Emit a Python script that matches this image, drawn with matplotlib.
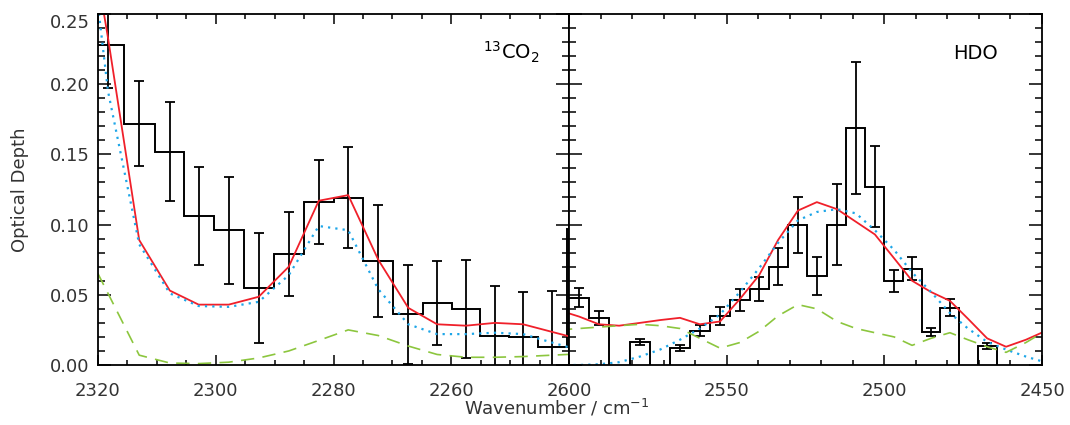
import matplotlib.pyplot as plt
import numpy as np
from matplotlib.ticker import MultipleLocator, FixedLocator, NullFormatter, FormatStrFormatter

plt.rcParams['font.family'] = 'DejaVu Sans'
plt.rcParams['mathtext.default'] = 'regular'

# ---- 13CO2 band (left panel) ----
co2_wn = [2318.3, 2313.0, 2307.8, 2302.9, 2297.8, 2292.7, 2287.6, 2282.5, 2277.5,
          2272.4, 2267.3, 2262.4, 2257.5, 2252.6, 2247.8, 2242.9, 2237.8]
co2_od = [0.228, 0.172, 0.152, 0.106, 0.096, 0.055, 0.079, 0.116, 0.119,
          0.074, 0.036, 0.044, 0.040, 0.021, 0.020, 0.013, 0.097]
co2_err = [0.031, 0.030, 0.035, 0.035, 0.038, 0.039, 0.030, 0.030, 0.036,
           0.040, 0.035, 0.030, 0.035, 0.035, 0.032, 0.040, 0.040]

co2_fit_wn = [2323.4, 2318.3, 2313.0, 2307.8, 2302.9, 2297.8, 2292.7, 2287.6, 2282.5,
              2277.5, 2272.4, 2267.3, 2262.4, 2257.5, 2252.6, 2247.8, 2242.9, 2237.8]
co2_total = [0.360, 0.233, 0.089, 0.053, 0.043, 0.043, 0.0486, 0.070, 0.117,
             0.121, 0.075, 0.0407, 0.029, 0.028, 0.030, 0.029, 0.0236, 0.018]
co2_comp1 = [0.378, 0.195, 0.086, 0.051, 0.042, 0.0414, 0.045, 0.064, 0.099,
             0.096, 0.054, 0.029, 0.022, 0.022, 0.023, 0.022, 0.016, 0.010]
co2_comp2 = [0.093, 0.051, 0.007, 0.0014, 0.001, 0.002, 0.005, 0.010, 0.0175,
             0.025, 0.021, 0.0135, 0.0075, 0.0055, 0.0055, 0.006, 0.007, 0.008]

# ---- HDO band (right panel) ----
hdo_wn = [2596.8, 2590.5, 2584.1, 2577.5, 2571.1, 2564.8, 2558.5, 2552.1, 2545.8,
          2539.7, 2533.7, 2527.4, 2521.4, 2515.0, 2509.0, 2503.0, 2496.9, 2491.2,
          2485.2, 2479.2, 2473.5, 2467.4, 2461.4, 2455.1]
hdo_od = [0.048, 0.0336, -0.010, 0.0164, -0.010, 0.012, 0.0243, 0.035, 0.0464,
          0.054, 0.070, 0.100, 0.0636, 0.100, 0.1686, 0.127, 0.060, 0.0686,
          0.0236, 0.0407, -0.010, 0.0136, -0.010, -0.010]
hdo_err = [0.007, 0.005, 0.0, 0.002, 0.0, 0.002, 0.004, 0.0064, 0.008,
           0.0085, 0.013, 0.020, 0.0135, 0.029, 0.047, 0.029, 0.008, 0.008,
           0.003, 0.006, 0.0, 0.002, 0.0, 0.0]

hdo_fit_wn = [2603.2, 2596.8, 2590.5, 2584.1, 2577.5, 2571.1, 2564.8, 2558.5, 2552.1,
              2545.8, 2539.7, 2533.7, 2527.4, 2521.4, 2515.0, 2509.0, 2503.0, 2496.9,
              2491.2, 2485.2, 2479.2, 2473.5, 2467.4, 2461.4, 2455.1, 2449.1]
hdo_total = [0.039, 0.0345, 0.029, 0.028, 0.030, 0.032, 0.0336, 0.029, 0.031,
             0.047, 0.064, 0.089, 0.110, 0.116, 0.111, 0.102, 0.093, 0.076,
             0.060, 0.052, 0.0457, 0.033, 0.019, 0.013, 0.018, 0.024]
hdo_comp1 = [0.0, 0.0, 0.0005, 0.002, 0.006, 0.011, 0.018, 0.026, 0.036,
             0.052, 0.069, 0.087, 0.103, 0.109, 0.111, 0.108, 0.096, 0.082,
             0.066, 0.052, 0.037, 0.026, 0.0165, 0.011, 0.006, 0.002]
hdo_comp2 = [0.025, 0.026, 0.027, 0.028, 0.029, 0.028, 0.026, 0.019, 0.012,
             0.016, 0.024, 0.035, 0.043, 0.040, 0.031, 0.026, 0.023, 0.020,
             0.014, 0.019, 0.023, 0.018, 0.013, 0.009, 0.016, 0.024]

RED = '#f0202a'
CYAN = '#1ea6e8'
GREEN = '#8cc63e'
TXT = '#333333'


def bin_edges(centers):
    c = np.asarray(centers)
    mid = (c[:-1] + c[1:]) / 2
    first = c[0] - (c[1] - c[0]) / 2
    last = c[-1] + (c[-1] - c[-2]) / 2
    return np.concatenate([[first], mid, [last]])


def draw_panel(ax, wn, od, err, fit_wn, total, comp1, comp2):
    ax.stairs(od, bin_edges(wn), baseline=None, color='black', lw=1.4)
    ax.errorbar(wn, od, yerr=err, fmt='none', ecolor='black', elinewidth=1.3,
                capsize=3.6, capthick=1.3)
    ax.plot(fit_wn, total, color=RED, lw=1.3)
    ax.plot(fit_wn, comp1, color=CYAN, lw=1.6, linestyle=(0, (1, 2.3)))
    ax.plot(fit_wn, comp2, color=GREEN, lw=1.2, linestyle=(0, (8, 5)))
    ax.set_ylim(0, 0.25)
    ax.yaxis.set_major_locator(MultipleLocator(0.05))
    ax.yaxis.set_minor_locator(MultipleLocator(0.01))
    ax.tick_params(which='both', direction='in', top=True, right=True,
                   width=1.1, colors='black', labelcolor=TXT, labelsize=13)
    ax.tick_params(axis='y', which='major', length=9.5, pad=6)
    ax.tick_params(axis='y', which='minor', length=5)
    ax.tick_params(axis='x', which='major', length=7, pad=12)
    ax.tick_params(axis='x', which='minor', length=3.3)
    for s in ax.spines.values():
        s.set_linewidth(1.3)


fig = plt.figure(figsize=(10.7, 4.25), dpi=100)
W, H = 1070, 425
ax1 = fig.add_axes([98 / W, 60 / H, 471 / W, 351 / H])
ax2 = fig.add_axes([569 / W, 60 / H, 473 / W, 351 / H])

draw_panel(ax1, co2_wn, co2_od, co2_err, co2_fit_wn, co2_total, co2_comp1, co2_comp2)
draw_panel(ax2, hdo_wn, hdo_od, hdo_err, hdo_fit_wn, hdo_total, hdo_comp1, hdo_comp2)

ax1.set_xlim(2320, 2240)
ax1.xaxis.set_major_locator(FixedLocator([2320, 2300, 2280, 2260, 2240]))
ax1.set_xticklabels(['2320', '2300', '2280', '2260', ''])
ax1.xaxis.set_minor_locator(MultipleLocator(5))
ax1.yaxis.set_major_formatter(FormatStrFormatter('%.2f'))

ax2.set_xlim(2600, 2450)
ax2.xaxis.set_major_locator(FixedLocator([2600, 2550, 2500, 2450]))
ax2.xaxis.set_minor_locator(MultipleLocator(10))
ax2.yaxis.set_major_formatter(NullFormatter())

ax1.text(0.817, 0.869, r'$^{13}$CO$_2$', transform=ax1.transAxes,
         fontsize=14, ha='left', va='baseline')
ax2.text(0.812, 0.872, 'HDO', transform=ax2.transAxes,
         fontsize=14, ha='left', va='baseline')

fig.text(557 / W, 10 / H, r'Wavenumber / cm$^{-1}$', ha='center', va='baseline',
         fontsize=13, color=TXT)
fig.text(20 / W, 1 - 190 / H, 'Optical Depth', rotation=90, ha='center',
         va='center', fontsize=13, color=TXT)

# keep the top y label inside the frame
fig.canvas.draw()
for lab in ax1.get_yticklabels():
    if lab.get_text() == '0.25':
        lab.set_verticalalignment('top')

fig.savefig('out.png', dpi=100)
